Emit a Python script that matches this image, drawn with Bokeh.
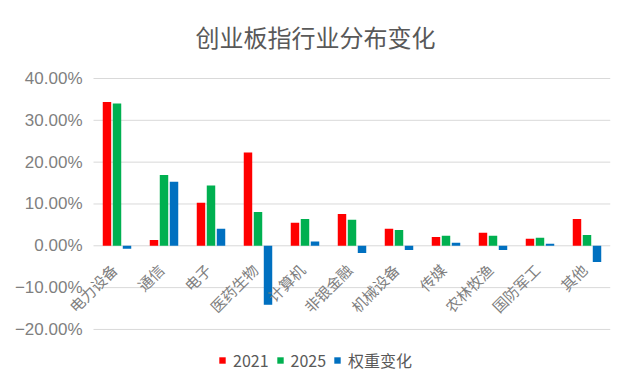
from math import pi
from bokeh.plotting import figure
from bokeh.models import ColumnDataSource, Range1d, Legend, LegendItem, Title
from bokeh.core.properties import value
from bokeh.embed import file_html
from bokeh.resources import INLINE

title_text = "创业板指行业分布变化"
categories = ["电力设备", "通信", "电子", "医药生物", "计算机", "非银金融",
              "机械设备", "传媒", "农林牧渔", "国防军工", "其他"]
v2021 = [34.4, 1.4, 10.3, 22.3, 5.5, 7.6, 4.1, 2.1, 3.1, 1.7, 6.4]
v2025 = [34.0, 16.9, 14.4, 8.1, 6.4, 6.2, 3.8, 2.4, 2.4, 1.9, 2.6]
v_change = [-0.7, 15.3, 4.1, -14.1, 1.0, -1.7, -1.0, 0.7, -1.0, 0.5, -3.9]
series_names = ["2021", "2025", "权重变化"]
y_ticks = [-20, -10, 0, 10, 20, 30, 40]
y_tick_labels = ["−20.00%", "−10.00%", "0.00%", "10.00%", "20.00%", "30.00%", "40.00%"]

colors = ["#FF0000", "#00B050", "#0070C0"]
CJK = "Noto Sans CJK SC"

n = len(categories)
xpos = [i + 0.5 for i in range(n)]
src = ColumnDataSource(dict(cat=categories, x=xpos, a=v2021, b=v2025, c=v_change,
                            base=[0] * n))

# plot area spans x in [0, n]; extra room on the left for rotated labels / tick texts,
# extra room above/below for tick texts and the legend
x_left = -1.766
y_top = y_ticks[-1] + 4.30
y_bottom = y_ticks[0] - 10.77

p = figure(width=624, height=374,
           x_range=Range1d(x_left, n), y_range=Range1d(y_bottom, y_top),
           output_backend="svg", toolbar_location=None,
           min_border_left=10, min_border_right=14,
           min_border_top=60, min_border_bottom=0)
p.title = Title(text=title_text, align="left", offset=185,
                text_font=CJK, text_font_size="24px", text_color="#595959",
                text_font_style="normal", standoff=13)
p.outline_line_color = None
p.background_fill_color = "white"
p.border_fill_color = "white"
p.xaxis.visible = False
p.yaxis.visible = False
p.xgrid.visible = False
p.ygrid.visible = False

# horizontal gridlines across the category area, with their tick texts
gsrc = ColumnDataSource(dict(y=y_ticks, lab=y_tick_labels,
                             x0=[0] * len(y_ticks), x1=[n] * len(y_ticks)))
p.segment(x0="x0", y0="y", x1="x1", y1="y", source=gsrc,
          line_color="#D9D9D9", line_width=1)
p.text(x="x0", y="y", text="lab", source=gsrc, x_offset=-11,
       text_align="right", text_baseline="middle",
       text_font=value("Liberation Sans"), text_font_size="17px",
       text_color="#7F7F7F")

w = 0.18
step = 0.213
renderers = []
for col, off, c in zip(["a", "b", "c"], [-step, 0, step], colors):
    xs = [v + off for v in xpos]
    s = ColumnDataSource(dict(x=xs, top=src.data[col], base=[0] * n))
    r = p.vbar(x="x", top="top", bottom="base", width=w, source=s,
               fill_color=c, line_color=None)
    renderers.append(r)

p.text(x="x", y="base", text="cat", source=src,
       angle=pi / 4, text_align="right", text_baseline="middle",
       x_offset=-3, y_offset=21,
       text_font=value(CJK), text_font_size="15px", text_color="#7F7F7F")

legend = Legend(items=[LegendItem(label=nm, renderers=[r]) for nm, r in zip(series_names, renderers)],
                orientation="horizontal", location=(208, 2),
                glyph_width=8, glyph_height=8, label_standoff=7, spacing=7,
                padding=0, margin=0, border_line_color=None,
                background_fill_alpha=0, label_text_font=CJK,
                label_text_font_size="16px", label_text_color="#595959",
                label_height=20)
p.add_layout(legend, "center")

open("out.html", "w").write(file_html(p, INLINE))
